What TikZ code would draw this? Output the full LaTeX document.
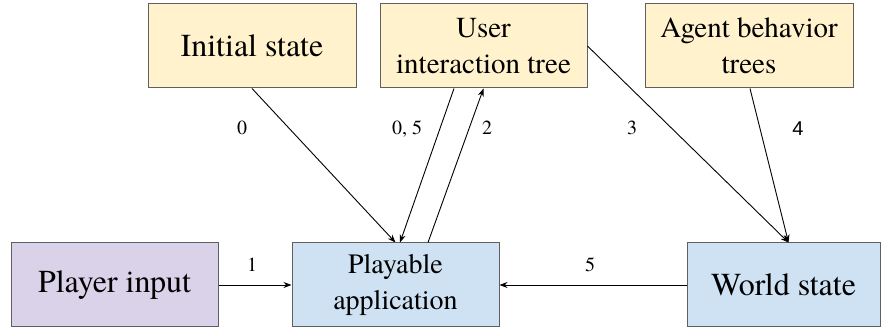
\documentclass[tikz,border=0pt]{standalone}
\usepackage{fontspec}
\newfontfamily\serifrm{texgyretermes}[Extension=.otf, UprightFont=*-regular]
\newfontfamily\labsans{Liberation Sans}
\usetikzlibrary{arrows.meta}
\definecolor{boxyellow}{HTML}{FFF2CC}
\definecolor{boxpurple}{HTML}{D9D2E9}
\definecolor{boxblue}{HTML}{CFE2F3}
\definecolor{boxedge}{HTML}{5F5F5F}
\begin{document}
\begin{tikzpicture}[x=1pt,y=-1pt,
  box/.style={draw=boxedge, line width=1pt, inner sep=0pt, align=center, minimum height=84pt},
  conn/.style={draw=black, line width=0.9pt, -{Stealth[length=8pt,width=6pt]}},
  lab/.style={font=\serifrm\fontsize{20}{24}\selectfont, anchor=base, inner sep=0pt}]
\useasboundingbox (0,0) rectangle (881,328);
\node[box, fill=boxyellow, minimum width=208pt, font=\serifrm\fontsize{32}{36}\selectfont] (init) at (252,46) {Initial state};
\node[box, fill=boxyellow, minimum width=207pt, font=\serifrm\fontsize{29}{36}\selectfont] (uit) at (483.5,46) {User\\interaction tree};
\node[box, fill=boxyellow, minimum width=208pt, font=\serifrm\fontsize{29}{36}\selectfont] (abt) at (749,46) {Agent behavior\\trees};
\node[box, fill=boxpurple, minimum width=207pt, font=\serifrm\fontsize{32}{36}\selectfont] (pin) at (114.5,285) {Player input};
\node[box, fill=boxblue, minimum width=207pt, font=\serifrm\fontsize{28}{36}\selectfont] (pa) at (395.5,285) {Playable\\application};
\node[box, fill=boxblue, minimum width=193pt, font=\serifrm\fontsize{32}{36}\selectfont] (ws) at (783.5,285) {World state};
\draw[conn] (init.south) -- (pa.north);
\draw[conn] ([xshift=-29.5pt]uit.south) -- ([xshift=4.5pt]pa.north);
\draw[conn] ([xshift=32.5pt]pa.north) -- (uit.south);
\draw[conn] (uit.east) -- ([xshift=5pt]ws.north);
\draw[conn] ([xshift=1pt]abt.south) -- ([xshift=5pt]ws.north);
\draw[conn] (pin.east) -- (pa.west);
\draw[conn] (ws.west) -- (pa.east);
\node[lab] (l0) at (242,135) {0};
\node[lab] (l05) at (407,135) {0, 5};
\node[lab] (l2) at (487,135) {2};
\node[lab] (l3) at (632,135) {3};
\node[lab, font=\labsans\fontsize{20}{24}\selectfont] (l4) at (798,136) {4};
\node[lab] (l1) at (252,272) {1};
\node[lab] (l5) at (590,272) {5};
\end{tikzpicture}
\end{document}
